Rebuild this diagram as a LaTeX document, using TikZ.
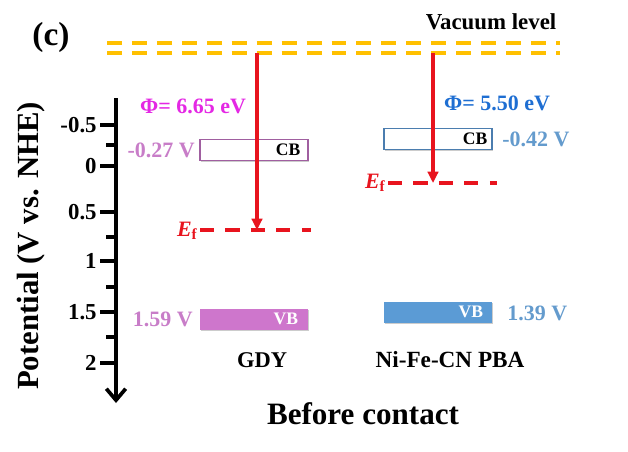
\documentclass[tikz,border=0pt]{standalone}
\usepackage{fontspec}
\setmainfont{Liberation Serif}
\usetikzlibrary{arrows.meta,shadows}
\definecolor{vacc}{RGB}{255,192,0}
\definecolor{redc}{RGB}{232,20,30}
\definecolor{gdyc}{RGB}{206,118,204}
\definecolor{gdyb}{RGB}{160,95,160}
\definecolor{gdyt}{RGB}{200,125,200}
\definecolor{phig}{RGB}{228,40,228}
\definecolor{pbac}{RGB}{91,155,213}
\definecolor{pbab}{RGB}{75,125,175}
\definecolor{pbat}{RGB}{100,155,205}
\definecolor{phip}{RGB}{30,110,210}
\newcommand{\fs}[1]{\fontsize{#1}{#1}\selectfont\bfseries}

\begin{document}
\begin{tikzpicture}[x=0.02cm,y=-0.02cm,
  txt/.style={font=\fs{12.5}, inner sep=0pt},
  band/.style={minimum width=2.16cm, minimum height=0.42cm, inner sep=0pt,
    drop shadow={shadow xshift=0.8pt, shadow yshift=-1pt, opacity=0.4}},
  bandtxt/.style={font=\fs{10}, inner sep=0pt, anchor=east},
  vac/.style={vacc, line width=2.7pt, dash pattern=on 8.5pt off 5.7pt},
  fermi/.style={redc, line width=2pt, dash pattern=on 8pt off 6.5pt},
  phi/.style={redc, line width=2pt, -{Triangle[length=6.5pt,width=6pt]}},
  tick/.style={line width=2.1pt}]
  \useasboundingbox (0,0) rectangle (628,451);

  % axis
  \node[font=\fs{19}] (lab) at (51,37) {(c)};
  \node[font=\fs{17.5}, rotate=90] (ylab) at (31,246) {Potential (V vs. NHE)};
  \coordinate (axtop) at (116,98);
  \coordinate (axbot) at (116,403);
  \draw[line width=2.1pt, -{Straight Barb[length=6.5pt,width=11pt,line width=2.1pt]}] (axtop) -- (axbot);
  \foreach \y/\v [count=\i] in {125/-0.5,166/0,212/0.5,261/1,312/1.5,363/2} {
    \draw[tick] (100,\y) -- (116,\y);
    \node[font=\fs{13}, anchor=east, inner sep=0pt] (tk\i) at (97,\y) {\v};
  }
  \foreach \y in {145,237,287,337}
    \draw[tick] (106,\y) -- (116,\y);

  % vacuum level
  \coordinate (vaca) at (107,43);
  \coordinate (vacb) at (560,43);
  \coordinate (vacc) at (107,53);
  \coordinate (vacd) at (560,53);
  \draw[vac] (vaca) -- (vacb);
  \draw[vac] (vacc) -- (vacd);
  \node[font=\fs{13}] (vactxt) at (491,22) {Vacuum level};

  % GDY
  \node[band, draw=gdyb, fill=white, line width=0.8pt] (cbg) at (254,150) {};
  \node[band, fill=gdyc] (vbg) at (254,319) {};
  \node[bandtxt] (cbgt) at ([xshift=-0.16cm]cbg.east) {CB};
  \node[bandtxt, white] (vbgt) at ([xshift=-0.2cm]vbg.east) {VB};
  \node[txt, gdyt, anchor=east] (cbgv) at (195,150) {-0.27 V};
  \node[txt, gdyt, anchor=east] (vbgv) at (193,319) {1.59 V};
  \coordinate (efga) at (200,230);
  \coordinate (efgb) at (311,230);
  \draw[fermi] (efga) -- (efgb);
  \node[txt, redc, anchor=east] (efgt) at (198,231) {\textit{E}\textsubscript{f}};
  \coordinate (vacg) at (257,53);
  \coordinate (efg) at (257,230);
  \draw[phi] (vacg) -- (efg);
  \node[txt, phig] (phigt) at (193,106) {Φ= 6.65 eV};
  \node[txt, font=\fs{12.8}] (gdy) at (262,360) {GDY};

  % Ni-Fe-CN PBA
  \node[band, draw=pbab, fill=white, line width=0.8pt] (cbp) at (438,139) {};
  \node[band, fill=pbac] (vbp) at (438,312) {};
  \node[bandtxt] (cbpt) at ([xshift=-0.1cm]cbp.east) {CB};
  \node[bandtxt, white] (vbpt) at ([xshift=-0.18cm]vbp.east) {VB};
  \node[txt, pbat, anchor=west] (cbpv) at (502,139) {-0.42 V};
  \node[txt, pbat, anchor=west] (vbpv) at (507,313) {1.39 V};
  \coordinate (efpa) at (388,183);
  \coordinate (efpb) at (497,183);
  \draw[fermi] (efpa) -- (efpb);
  \node[txt, redc, anchor=east] (efpt) at (386,183) {\textit{E}\textsubscript{f}};
  \coordinate (vacp) at (433,53);
  \coordinate (efp) at (433,183);
  \draw[phi] (vacp) -- (efp);
  \node[txt, phip] (phipt) at (497,103) {Φ= 5.50 eV};
  \node[txt, font=\fs{13.2}] (pba) at (450,360) {Ni-Fe-CN PBA};

  \node[font=\fs{17.7}] (cap) at (363,414) {Before contact};
\end{tikzpicture}
\end{document}
